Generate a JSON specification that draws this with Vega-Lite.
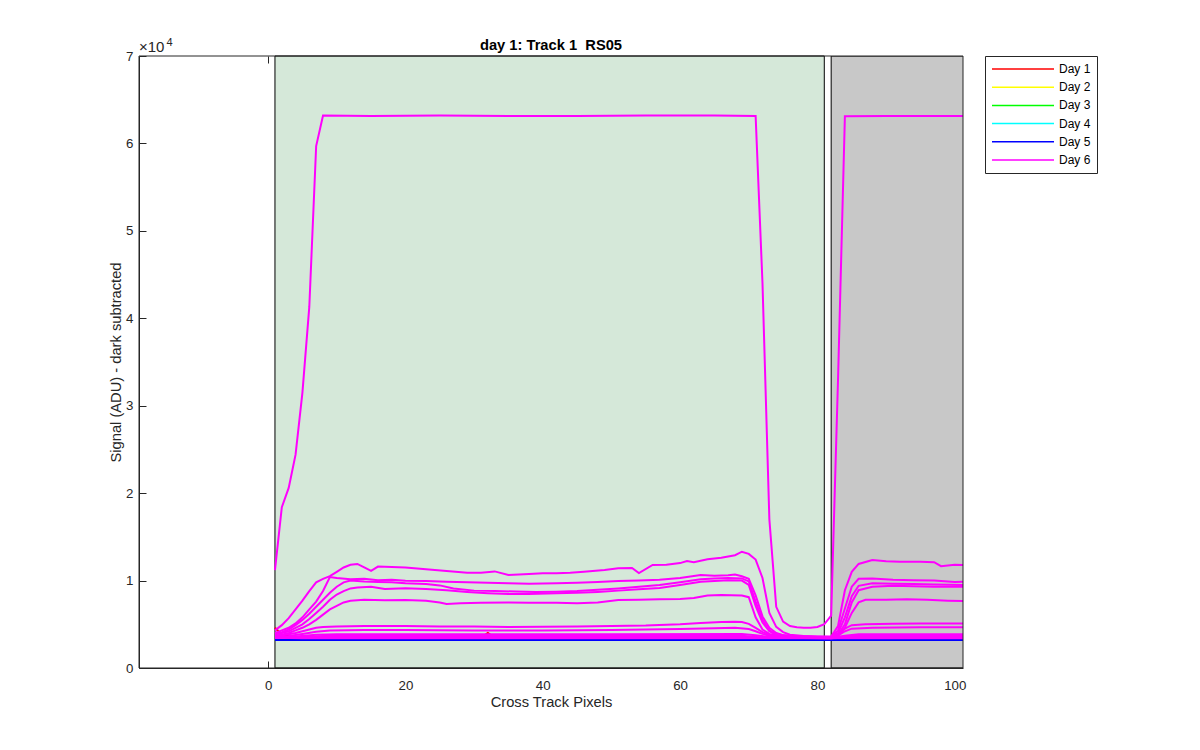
{
  "$schema": "https://vega.github.io/schema/vega-lite/v6.json",
  "width": 824,
  "height": 612,
  "autosize": {"type": "none"},
  "padding": {"left": 139, "top": 56, "right": 237, "bottom": 82},
  "background": "white",
  "config": {
    "font": "Liberation Sans",
    "view": {"stroke": null},
    "legend": {
      "orient": "right",
      "offset": 22,
      "title": null,
      "symbolType": "stroke",
      "symbolSize": 3844,
      "symbolStrokeWidth": 1.5,
      "labelFontSize": 12,
      "labelColor": "#000000",
      "labelOffset": 4,
      "strokeColor": "#262626",
      "fillColor": "#ffffff",
      "padding": 6,
      "clipHeight": 14,
      "rowPadding": 4.2
    }
  },
  "resolve": {"axis": {"x": "independent", "y": "independent"}},
  "title": {
    "text": "day 1: Track 1\u00a0 RS05",
    "fontSize": 14.7,
    "fontWeight": "bold",
    "color": "#000000",
    "offset": -16,
    "anchor": "middle"
  },
  "datasets": {
    "under": [
      {"day":"Day 1","id":"r1","pixel":1,"signal":4600},{"day":"Day 1","id":"r1","pixel":2,"signal":3800},{"day":"Day 1","id":"r1","pixel":4,"signal":3450},{"day":"Day 1","id":"r1","pixel":31,"signal":3450},{"day":"Day 1","id":"r1","pixel":32,"signal":4000},{"day":"Day 1","id":"r1","pixel":33,"signal":3450},{"day":"Day 1","id":"r1","pixel":102,"signal":3400},
      {"day":"Day 2","id":"y1","pixel":1,"signal":3200},{"day":"Day 2","id":"y1","pixel":50,"signal":3200},{"day":"Day 2","id":"y1","pixel":102,"signal":3200},
      {"day":"Day 3","id":"g1","pixel":1,"signal":3200},{"day":"Day 3","id":"g1","pixel":50,"signal":3200},{"day":"Day 3","id":"g1","pixel":102,"signal":3200},
      {"day":"Day 4","id":"c1","pixel":1,"signal":3200},{"day":"Day 4","id":"c1","pixel":50,"signal":3200},{"day":"Day 4","id":"c1","pixel":102,"signal":3200},
      {"day":"Day 5","id":"b1","pixel":1,"signal":3200},{"day":"Day 5","id":"b1","pixel":50,"signal":3200},{"day":"Day 5","id":"b1","pixel":102,"signal":3200}
    ],
    "magenta": [
      {"day":"Day 6","id":"S","pixel":1,"signal":11200},{"day":"Day 6","id":"S","pixel":2,"signal":18400},{"day":"Day 6","id":"S","pixel":3,"signal":20600},{"day":"Day 6","id":"S","pixel":4,"signal":24400},{"day":"Day 6","id":"S","pixel":5,"signal":31500},{"day":"Day 6","id":"S","pixel":6,"signal":41300},{"day":"Day 6","id":"S","pixel":7,"signal":59700},{"day":"Day 6","id":"S","pixel":8,"signal":63200},{"day":"Day 6","id":"S","pixel":15,"signal":63150},{"day":"Day 6","id":"S","pixel":25,"signal":63200},{"day":"Day 6","id":"S","pixel":35,"signal":63150},{"day":"Day 6","id":"S","pixel":45,"signal":63150},{"day":"Day 6","id":"S","pixel":55,"signal":63200},{"day":"Day 6","id":"S","pixel":65,"signal":63200},{"day":"Day 6","id":"S","pixel":71,"signal":63150},{"day":"Day 6","id":"S","pixel":72,"signal":44000},{"day":"Day 6","id":"S","pixel":73,"signal":17000},{"day":"Day 6","id":"S","pixel":74,"signal":7000},{"day":"Day 6","id":"S","pixel":75,"signal":5300},{"day":"Day 6","id":"S","pixel":76,"signal":4800},{"day":"Day 6","id":"S","pixel":77,"signal":4650},{"day":"Day 6","id":"S","pixel":78,"signal":4600},{"day":"Day 6","id":"S","pixel":79,"signal":4600},{"day":"Day 6","id":"S","pixel":80,"signal":4700},{"day":"Day 6","id":"S","pixel":81,"signal":5000},{"day":"Day 6","id":"S","pixel":82,"signal":6000},{"day":"Day 6","id":"S","pixel":83,"signal":33000},{"day":"Day 6","id":"S","pixel":84,"signal":63100},{"day":"Day 6","id":"S","pixel":90,"signal":63150},{"day":"Day 6","id":"S","pixel":102,"signal":63150},

      {"day":"Day 6","id":"A","pixel":1,"signal":4300},{"day":"Day 6","id":"A","pixel":2,"signal":4900},{"day":"Day 6","id":"A","pixel":3,"signal":5700},{"day":"Day 6","id":"A","pixel":4,"signal":6700},{"day":"Day 6","id":"A","pixel":5,"signal":7700},{"day":"Day 6","id":"A","pixel":6,"signal":8800},{"day":"Day 6","id":"A","pixel":7,"signal":9800},{"day":"Day 6","id":"A","pixel":8,"signal":10200},{"day":"Day 6","id":"A","pixel":9,"signal":10500},{"day":"Day 6","id":"A","pixel":10,"signal":11000},{"day":"Day 6","id":"A","pixel":11,"signal":11500},{"day":"Day 6","id":"A","pixel":12,"signal":11800},{"day":"Day 6","id":"A","pixel":13,"signal":11900},{"day":"Day 6","id":"A","pixel":14,"signal":11500},{"day":"Day 6","id":"A","pixel":15,"signal":11100},{"day":"Day 6","id":"A","pixel":16,"signal":11600},{"day":"Day 6","id":"A","pixel":18,"signal":11550},{"day":"Day 6","id":"A","pixel":20,"signal":11500},{"day":"Day 6","id":"A","pixel":23,"signal":11300},{"day":"Day 6","id":"A","pixel":26,"signal":11100},{"day":"Day 6","id":"A","pixel":29,"signal":10900},{"day":"Day 6","id":"A","pixel":31,"signal":10900},{"day":"Day 6","id":"A","pixel":33,"signal":11050},{"day":"Day 6","id":"A","pixel":35,"signal":10650},{"day":"Day 6","id":"A","pixel":38,"signal":10750},{"day":"Day 6","id":"A","pixel":40,"signal":10830},{"day":"Day 6","id":"A","pixel":42,"signal":10830},{"day":"Day 6","id":"A","pixel":44,"signal":10900},{"day":"Day 6","id":"A","pixel":46,"signal":11020},{"day":"Day 6","id":"A","pixel":49,"signal":11200},{"day":"Day 6","id":"A","pixel":51,"signal":11400},{"day":"Day 6","id":"A","pixel":53,"signal":11450},{"day":"Day 6","id":"A","pixel":54,"signal":10860},{"day":"Day 6","id":"A","pixel":56,"signal":11780},{"day":"Day 6","id":"A","pixel":58,"signal":11800},{"day":"Day 6","id":"A","pixel":60,"signal":12000},{"day":"Day 6","id":"A","pixel":61,"signal":12240},{"day":"Day 6","id":"A","pixel":62,"signal":12100},{"day":"Day 6","id":"A","pixel":64,"signal":12430},{"day":"Day 6","id":"A","pixel":66,"signal":12600},{"day":"Day 6","id":"A","pixel":68,"signal":12900},{"day":"Day 6","id":"A","pixel":69,"signal":13300},{"day":"Day 6","id":"A","pixel":70,"signal":13050},{"day":"Day 6","id":"A","pixel":71,"signal":12400},{"day":"Day 6","id":"A","pixel":72,"signal":10300},{"day":"Day 6","id":"A","pixel":73,"signal":6300},{"day":"Day 6","id":"A","pixel":74,"signal":4700},{"day":"Day 6","id":"A","pixel":75,"signal":4100},{"day":"Day 6","id":"A","pixel":76,"signal":3800},{"day":"Day 6","id":"A","pixel":78,"signal":3650},{"day":"Day 6","id":"A","pixel":80,"signal":3600},{"day":"Day 6","id":"A","pixel":82,"signal":3600},{"day":"Day 6","id":"A","pixel":83,"signal":4800},{"day":"Day 6","id":"A","pixel":84,"signal":8900},{"day":"Day 6","id":"A","pixel":85,"signal":11000},{"day":"Day 6","id":"A","pixel":86,"signal":11900},{"day":"Day 6","id":"A","pixel":88,"signal":12350},{"day":"Day 6","id":"A","pixel":90,"signal":12200},{"day":"Day 6","id":"A","pixel":92,"signal":12160},{"day":"Day 6","id":"A","pixel":95,"signal":12150},{"day":"Day 6","id":"A","pixel":97,"signal":12100},{"day":"Day 6","id":"A","pixel":98,"signal":11650},{"day":"Day 6","id":"A","pixel":100,"signal":11800},{"day":"Day 6","id":"A","pixel":102,"signal":11780},

      {"day":"Day 6","id":"B","pixel":1,"signal":4000},{"day":"Day 6","id":"B","pixel":2,"signal":4300},{"day":"Day 6","id":"B","pixel":3,"signal":4600},{"day":"Day 6","id":"B","pixel":4,"signal":5100},{"day":"Day 6","id":"B","pixel":5,"signal":5800},{"day":"Day 6","id":"B","pixel":6,"signal":6700},{"day":"Day 6","id":"B","pixel":7,"signal":7600},{"day":"Day 6","id":"B","pixel":8,"signal":8800},{"day":"Day 6","id":"B","pixel":9,"signal":10400},{"day":"Day 6","id":"B","pixel":10,"signal":10300},{"day":"Day 6","id":"B","pixel":12,"signal":10150},{"day":"Day 6","id":"B","pixel":14,"signal":10200},{"day":"Day 6","id":"B","pixel":16,"signal":10050},{"day":"Day 6","id":"B","pixel":18,"signal":10100},{"day":"Day 6","id":"B","pixel":20,"signal":9990},{"day":"Day 6","id":"B","pixel":23,"signal":9950},{"day":"Day 6","id":"B","pixel":26,"signal":9870},{"day":"Day 6","id":"B","pixel":29,"signal":9800},{"day":"Day 6","id":"B","pixel":32,"signal":9750},{"day":"Day 6","id":"B","pixel":35,"signal":9700},{"day":"Day 6","id":"B","pixel":38,"signal":9650},{"day":"Day 6","id":"B","pixel":42,"signal":9690},{"day":"Day 6","id":"B","pixel":45,"signal":9750},{"day":"Day 6","id":"B","pixel":48,"signal":9850},{"day":"Day 6","id":"B","pixel":51,"signal":9950},{"day":"Day 6","id":"B","pixel":54,"signal":10000},{"day":"Day 6","id":"B","pixel":57,"signal":10100},{"day":"Day 6","id":"B","pixel":60,"signal":10300},{"day":"Day 6","id":"B","pixel":63,"signal":10640},{"day":"Day 6","id":"B","pixel":65,"signal":10550},{"day":"Day 6","id":"B","pixel":67,"signal":10600},{"day":"Day 6","id":"B","pixel":68,"signal":10700},{"day":"Day 6","id":"B","pixel":69,"signal":10500},{"day":"Day 6","id":"B","pixel":70,"signal":10200},{"day":"Day 6","id":"B","pixel":71,"signal":8300},{"day":"Day 6","id":"B","pixel":72,"signal":5900},{"day":"Day 6","id":"B","pixel":73,"signal":4600},{"day":"Day 6","id":"B","pixel":74,"signal":4000},{"day":"Day 6","id":"B","pixel":75,"signal":3750},{"day":"Day 6","id":"B","pixel":77,"signal":3600},{"day":"Day 6","id":"B","pixel":80,"signal":3550},{"day":"Day 6","id":"B","pixel":82,"signal":3550},{"day":"Day 6","id":"B","pixel":83,"signal":4300},{"day":"Day 6","id":"B","pixel":84,"signal":6800},{"day":"Day 6","id":"B","pixel":85,"signal":9300},{"day":"Day 6","id":"B","pixel":86,"signal":10200},{"day":"Day 6","id":"B","pixel":88,"signal":10250},{"day":"Day 6","id":"B","pixel":91,"signal":10100},{"day":"Day 6","id":"B","pixel":94,"signal":10050},{"day":"Day 6","id":"B","pixel":97,"signal":10000},{"day":"Day 6","id":"B","pixel":100,"signal":9850},{"day":"Day 6","id":"B","pixel":102,"signal":9870},

      {"day":"Day 6","id":"C","pixel":1,"signal":3900},{"day":"Day 6","id":"C","pixel":2,"signal":4100},{"day":"Day 6","id":"C","pixel":3,"signal":4400},{"day":"Day 6","id":"C","pixel":4,"signal":4900},{"day":"Day 6","id":"C","pixel":5,"signal":5500},{"day":"Day 6","id":"C","pixel":6,"signal":6200},{"day":"Day 6","id":"C","pixel":7,"signal":7000},{"day":"Day 6","id":"C","pixel":8,"signal":7800},{"day":"Day 6","id":"C","pixel":9,"signal":8600},{"day":"Day 6","id":"C","pixel":10,"signal":9300},{"day":"Day 6","id":"C","pixel":11,"signal":9800},{"day":"Day 6","id":"C","pixel":12,"signal":10000},{"day":"Day 6","id":"C","pixel":14,"signal":9900},{"day":"Day 6","id":"C","pixel":16,"signal":9850},{"day":"Day 6","id":"C","pixel":18,"signal":9800},{"day":"Day 6","id":"C","pixel":20,"signal":9690},{"day":"Day 6","id":"C","pixel":23,"signal":9600},{"day":"Day 6","id":"C","pixel":25,"signal":9450},{"day":"Day 6","id":"C","pixel":27,"signal":9100},{"day":"Day 6","id":"C","pixel":30,"signal":8850},{"day":"Day 6","id":"C","pixel":33,"signal":8800},{"day":"Day 6","id":"C","pixel":36,"signal":8750},{"day":"Day 6","id":"C","pixel":39,"signal":8700},{"day":"Day 6","id":"C","pixel":42,"signal":8730},{"day":"Day 6","id":"C","pixel":45,"signal":8800},{"day":"Day 6","id":"C","pixel":48,"signal":8950},{"day":"Day 6","id":"C","pixel":51,"signal":9100},{"day":"Day 6","id":"C","pixel":54,"signal":9300},{"day":"Day 6","id":"C","pixel":57,"signal":9500},{"day":"Day 6","id":"C","pixel":60,"signal":9800},{"day":"Day 6","id":"C","pixel":63,"signal":10140},{"day":"Day 6","id":"C","pixel":65,"signal":10250},{"day":"Day 6","id":"C","pixel":67,"signal":10300},{"day":"Day 6","id":"C","pixel":69,"signal":10250},{"day":"Day 6","id":"C","pixel":70,"signal":9900},{"day":"Day 6","id":"C","pixel":71,"signal":7600},{"day":"Day 6","id":"C","pixel":72,"signal":5500},{"day":"Day 6","id":"C","pixel":73,"signal":4300},{"day":"Day 6","id":"C","pixel":74,"signal":3850},{"day":"Day 6","id":"C","pixel":76,"signal":3650},{"day":"Day 6","id":"C","pixel":82,"signal":3550},{"day":"Day 6","id":"C","pixel":83,"signal":4000},{"day":"Day 6","id":"C","pixel":84,"signal":5800},{"day":"Day 6","id":"C","pixel":85,"signal":8200},{"day":"Day 6","id":"C","pixel":86,"signal":9400},{"day":"Day 6","id":"C","pixel":88,"signal":9700},{"day":"Day 6","id":"C","pixel":91,"signal":9650},{"day":"Day 6","id":"C","pixel":94,"signal":9600},{"day":"Day 6","id":"C","pixel":97,"signal":9550},{"day":"Day 6","id":"C","pixel":102,"signal":9490},

      {"day":"Day 6","id":"D","pixel":1,"signal":3800},{"day":"Day 6","id":"D","pixel":2,"signal":4000},{"day":"Day 6","id":"D","pixel":3,"signal":4200},{"day":"Day 6","id":"D","pixel":4,"signal":4600},{"day":"Day 6","id":"D","pixel":5,"signal":5000},{"day":"Day 6","id":"D","pixel":6,"signal":5600},{"day":"Day 6","id":"D","pixel":7,"signal":6300},{"day":"Day 6","id":"D","pixel":8,"signal":7000},{"day":"Day 6","id":"D","pixel":9,"signal":7800},{"day":"Day 6","id":"D","pixel":10,"signal":8400},{"day":"Day 6","id":"D","pixel":11,"signal":8800},{"day":"Day 6","id":"D","pixel":12,"signal":9100},{"day":"Day 6","id":"D","pixel":13,"signal":9200},{"day":"Day 6","id":"D","pixel":15,"signal":9300},{"day":"Day 6","id":"D","pixel":17,"signal":9050},{"day":"Day 6","id":"D","pixel":20,"signal":9110},{"day":"Day 6","id":"D","pixel":23,"signal":9050},{"day":"Day 6","id":"D","pixel":26,"signal":8900},{"day":"Day 6","id":"D","pixel":29,"signal":8700},{"day":"Day 6","id":"D","pixel":32,"signal":8550},{"day":"Day 6","id":"D","pixel":35,"signal":8450},{"day":"Day 6","id":"D","pixel":38,"signal":8450},{"day":"Day 6","id":"D","pixel":42,"signal":8540},{"day":"Day 6","id":"D","pixel":45,"signal":8600},{"day":"Day 6","id":"D","pixel":48,"signal":8700},{"day":"Day 6","id":"D","pixel":51,"signal":8850},{"day":"Day 6","id":"D","pixel":54,"signal":9000},{"day":"Day 6","id":"D","pixel":57,"signal":9150},{"day":"Day 6","id":"D","pixel":60,"signal":9500},{"day":"Day 6","id":"D","pixel":63,"signal":9870},{"day":"Day 6","id":"D","pixel":65,"signal":9950},{"day":"Day 6","id":"D","pixel":67,"signal":10050},{"day":"Day 6","id":"D","pixel":69,"signal":10000},{"day":"Day 6","id":"D","pixel":70,"signal":9500},{"day":"Day 6","id":"D","pixel":71,"signal":7100},{"day":"Day 6","id":"D","pixel":72,"signal":5200},{"day":"Day 6","id":"D","pixel":73,"signal":4200},{"day":"Day 6","id":"D","pixel":74,"signal":3800},{"day":"Day 6","id":"D","pixel":76,"signal":3600},{"day":"Day 6","id":"D","pixel":82,"signal":3500},{"day":"Day 6","id":"D","pixel":83,"signal":3800},{"day":"Day 6","id":"D","pixel":84,"signal":5000},{"day":"Day 6","id":"D","pixel":85,"signal":7500},{"day":"Day 6","id":"D","pixel":86,"signal":8900},{"day":"Day 6","id":"D","pixel":88,"signal":9300},{"day":"Day 6","id":"D","pixel":91,"signal":9400},{"day":"Day 6","id":"D","pixel":94,"signal":9350},{"day":"Day 6","id":"D","pixel":97,"signal":9300},{"day":"Day 6","id":"D","pixel":102,"signal":9300},

      {"day":"Day 6","id":"E","pixel":1,"signal":3700},{"day":"Day 6","id":"E","pixel":2,"signal":3800},{"day":"Day 6","id":"E","pixel":3,"signal":4000},{"day":"Day 6","id":"E","pixel":4,"signal":4300},{"day":"Day 6","id":"E","pixel":5,"signal":4600},{"day":"Day 6","id":"E","pixel":6,"signal":5000},{"day":"Day 6","id":"E","pixel":7,"signal":5500},{"day":"Day 6","id":"E","pixel":8,"signal":6100},{"day":"Day 6","id":"E","pixel":9,"signal":6700},{"day":"Day 6","id":"E","pixel":10,"signal":7100},{"day":"Day 6","id":"E","pixel":11,"signal":7500},{"day":"Day 6","id":"E","pixel":12,"signal":7700},{"day":"Day 6","id":"E","pixel":14,"signal":7800},{"day":"Day 6","id":"E","pixel":17,"signal":7750},{"day":"Day 6","id":"E","pixel":20,"signal":7780},{"day":"Day 6","id":"E","pixel":23,"signal":7700},{"day":"Day 6","id":"E","pixel":25,"signal":7500},{"day":"Day 6","id":"E","pixel":26,"signal":7320},{"day":"Day 6","id":"E","pixel":28,"signal":7400},{"day":"Day 6","id":"E","pixel":31,"signal":7450},{"day":"Day 6","id":"E","pixel":35,"signal":7500},{"day":"Day 6","id":"E","pixel":38,"signal":7450},{"day":"Day 6","id":"E","pixel":42,"signal":7450},{"day":"Day 6","id":"E","pixel":45,"signal":7400},{"day":"Day 6","id":"E","pixel":48,"signal":7500},{"day":"Day 6","id":"E","pixel":51,"signal":7780},{"day":"Day 6","id":"E","pixel":54,"signal":7800},{"day":"Day 6","id":"E","pixel":57,"signal":7850},{"day":"Day 6","id":"E","pixel":60,"signal":7900},{"day":"Day 6","id":"E","pixel":62,"signal":8000},{"day":"Day 6","id":"E","pixel":64,"signal":8300},{"day":"Day 6","id":"E","pixel":66,"signal":8350},{"day":"Day 6","id":"E","pixel":69,"signal":8300},{"day":"Day 6","id":"E","pixel":70,"signal":8100},{"day":"Day 6","id":"E","pixel":71,"signal":5800},{"day":"Day 6","id":"E","pixel":72,"signal":4400},{"day":"Day 6","id":"E","pixel":73,"signal":3900},{"day":"Day 6","id":"E","pixel":75,"signal":3600},{"day":"Day 6","id":"E","pixel":82,"signal":3500},{"day":"Day 6","id":"E","pixel":83,"signal":3700},{"day":"Day 6","id":"E","pixel":84,"signal":4600},{"day":"Day 6","id":"E","pixel":85,"signal":6300},{"day":"Day 6","id":"E","pixel":86,"signal":7500},{"day":"Day 6","id":"E","pixel":87,"signal":7800},{"day":"Day 6","id":"E","pixel":90,"signal":7800},{"day":"Day 6","id":"E","pixel":93,"signal":7850},{"day":"Day 6","id":"E","pixel":96,"signal":7800},{"day":"Day 6","id":"E","pixel":99,"signal":7700},{"day":"Day 6","id":"E","pixel":102,"signal":7650},

      {"day":"Day 6","id":"F","pixel":1,"signal":3700},{"day":"Day 6","id":"F","pixel":2,"signal":3750},{"day":"Day 6","id":"F","pixel":3,"signal":3850},{"day":"Day 6","id":"F","pixel":4,"signal":4000},{"day":"Day 6","id":"F","pixel":5,"signal":4200},{"day":"Day 6","id":"F","pixel":6,"signal":4400},{"day":"Day 6","id":"F","pixel":7,"signal":4600},{"day":"Day 6","id":"F","pixel":8,"signal":4700},{"day":"Day 6","id":"F","pixel":10,"signal":4750},{"day":"Day 6","id":"F","pixel":14,"signal":4800},{"day":"Day 6","id":"F","pixel":20,"signal":4800},{"day":"Day 6","id":"F","pixel":25,"signal":4750},{"day":"Day 6","id":"F","pixel":30,"signal":4750},{"day":"Day 6","id":"F","pixel":35,"signal":4700},{"day":"Day 6","id":"F","pixel":40,"signal":4730},{"day":"Day 6","id":"F","pixel":45,"signal":4750},{"day":"Day 6","id":"F","pixel":50,"signal":4800},{"day":"Day 6","id":"F","pixel":55,"signal":4850},{"day":"Day 6","id":"F","pixel":60,"signal":5000},{"day":"Day 6","id":"F","pixel":63,"signal":5150},{"day":"Day 6","id":"F","pixel":66,"signal":5250},{"day":"Day 6","id":"F","pixel":68,"signal":5300},{"day":"Day 6","id":"F","pixel":69,"signal":5250},{"day":"Day 6","id":"F","pixel":70,"signal":5050},{"day":"Day 6","id":"F","pixel":71,"signal":4600},{"day":"Day 6","id":"F","pixel":72,"signal":4100},{"day":"Day 6","id":"F","pixel":73,"signal":3800},{"day":"Day 6","id":"F","pixel":74,"signal":3650},{"day":"Day 6","id":"F","pixel":82,"signal":3500},{"day":"Day 6","id":"F","pixel":83,"signal":3800},{"day":"Day 6","id":"F","pixel":84,"signal":4500},{"day":"Day 6","id":"F","pixel":85,"signal":4900},{"day":"Day 6","id":"F","pixel":87,"signal":5000},{"day":"Day 6","id":"F","pixel":91,"signal":5050},{"day":"Day 6","id":"F","pixel":95,"signal":5100},{"day":"Day 6","id":"F","pixel":102,"signal":5100},

      {"day":"Day 6","id":"G","pixel":1,"signal":3600},{"day":"Day 6","id":"G","pixel":3,"signal":3650},{"day":"Day 6","id":"G","pixel":5,"signal":3900},{"day":"Day 6","id":"G","pixel":7,"signal":4150},{"day":"Day 6","id":"G","pixel":9,"signal":4300},{"day":"Day 6","id":"G","pixel":14,"signal":4350},{"day":"Day 6","id":"G","pixel":20,"signal":4350},{"day":"Day 6","id":"G","pixel":30,"signal":4300},{"day":"Day 6","id":"G","pixel":40,"signal":4300},{"day":"Day 6","id":"G","pixel":50,"signal":4350},{"day":"Day 6","id":"G","pixel":60,"signal":4450},{"day":"Day 6","id":"G","pixel":65,"signal":4550},{"day":"Day 6","id":"G","pixel":68,"signal":4600},{"day":"Day 6","id":"G","pixel":70,"signal":4450},{"day":"Day 6","id":"G","pixel":71,"signal":4200},{"day":"Day 6","id":"G","pixel":72,"signal":3900},{"day":"Day 6","id":"G","pixel":73,"signal":3700},{"day":"Day 6","id":"G","pixel":74,"signal":3550},{"day":"Day 6","id":"G","pixel":82,"signal":3450},{"day":"Day 6","id":"G","pixel":83,"signal":3700},{"day":"Day 6","id":"G","pixel":84,"signal":4200},{"day":"Day 6","id":"G","pixel":85,"signal":4500},{"day":"Day 6","id":"G","pixel":88,"signal":4600},{"day":"Day 6","id":"G","pixel":95,"signal":4650},{"day":"Day 6","id":"G","pixel":102,"signal":4650},

      {"day":"Day 6","id":"H1","pixel":1,"signal":3550},{"day":"Day 6","id":"H1","pixel":4,"signal":3600},{"day":"Day 6","id":"H1","pixel":7,"signal":3800},{"day":"Day 6","id":"H1","pixel":10,"signal":3850},{"day":"Day 6","id":"H1","pixel":30,"signal":3850},{"day":"Day 6","id":"H1","pixel":50,"signal":3850},{"day":"Day 6","id":"H1","pixel":69,"signal":3900},{"day":"Day 6","id":"H1","pixel":71,"signal":3750},{"day":"Day 6","id":"H1","pixel":73,"signal":3550},{"day":"Day 6","id":"H1","pixel":82,"signal":3450},{"day":"Day 6","id":"H1","pixel":84,"signal":3700},{"day":"Day 6","id":"H1","pixel":86,"signal":3850},{"day":"Day 6","id":"H1","pixel":102,"signal":3850},

      {"day":"Day 6","id":"H2","pixel":1,"signal":3500},{"day":"Day 6","id":"H2","pixel":5,"signal":3550},{"day":"Day 6","id":"H2","pixel":8,"signal":3650},{"day":"Day 6","id":"H2","pixel":40,"signal":3650},{"day":"Day 6","id":"H2","pixel":69,"signal":3700},{"day":"Day 6","id":"H2","pixel":72,"signal":3500},{"day":"Day 6","id":"H2","pixel":82,"signal":3400},{"day":"Day 6","id":"H2","pixel":85,"signal":3650},{"day":"Day 6","id":"H2","pixel":102,"signal":3650},

      {"day":"Day 6","id":"H3","pixel":1,"signal":3450},{"day":"Day 6","id":"H3","pixel":8,"signal":3500},{"day":"Day 6","id":"H3","pixel":70,"signal":3550},{"day":"Day 6","id":"H3","pixel":73,"signal":3450},{"day":"Day 6","id":"H3","pixel":82,"signal":3400},{"day":"Day 6","id":"H3","pixel":85,"signal":3500},{"day":"Day 6","id":"H3","pixel":102,"signal":3500},

      {"day":"Day 6","id":"H4","pixel":1,"signal":3450},{"day":"Day 6","id":"H4","pixel":5,"signal":3400},{"day":"Day 6","id":"H4","pixel":102,"signal":3400}
    ]
  },
  "layer": [
    {
      "data": {"values": [{"start": 1, "end": 81}]},
      "mark": {"type": "rect", "fill": "#d5e8d9", "stroke": "#000000", "strokeWidth": 1},
      "encoding": {
        "x": {
          "field": "start", "type": "quantitative",
          "scale": {"domain": [-18.8, 101.2], "nice": false, "zero": false},
          "axis": null
        },
        "x2": {"field": "end"},
        "y": {
          "datum": 0, "type": "quantitative",
          "scale": {"domain": [0, 70000], "nice": false, "zero": false},
          "axis": null
        },
        "y2": {"datum": 70000}
      }
    },
    {
      "data": {"values": [{"start": 82, "end": 110}]},
      "mark": {"type": "rect", "fill": "#c8c8c8", "stroke": "#000000", "strokeWidth": 1, "clip": true},
      "encoding": {
        "x": {"field": "start", "type": "quantitative", "axis": null},
        "x2": {"field": "end"},
        "y": {"datum": 0, "type": "quantitative", "axis": null},
        "y2": {"datum": 70000}
      }
    },
    {
      "data": {"name": "under"},
      "mark": {"type": "line", "strokeWidth": 2, "clip": true},
      "encoding": {
        "x": {"field": "pixel", "type": "quantitative", "axis": null},
        "y": {"field": "signal", "type": "quantitative", "axis": null},
        "color": {
          "field": "day", "type": "nominal",
          "scale": {"domain": ["Day 1", "Day 2", "Day 3", "Day 4", "Day 5", "Day 6"], "range": ["#ff0000", "#ffff00", "#00ff00", "#00ffff", "#0000ff", "#ff00ff"]}
        },
        "detail": {"field": "id"}
      }
    },
    {
      "data": {"name": "magenta"},
      "mark": {"type": "line", "strokeWidth": 2, "clip": true},
      "encoding": {
        "x": {
          "field": "pixel", "type": "quantitative",
          "axis": {
            "orient": "bottom",
            "values": [0, 20, 40, 60, 80, 100],
            "title": "Cross Track Pixels",
            "titleFontSize": 14.7, "titleFontWeight": "normal", "titleColor": "#262626", "titlePadding": 3,
            "labelFontSize": 13.3, "labelColor": "#262626", "labelPadding": 17, "labelFlush": false,
            "domainColor": "#262626", "tickColor": "#262626", "tickSize": -7, "grid": false
          }
        },
        "y": {
          "field": "signal", "type": "quantitative",
          "axis": {
            "orient": "left",
            "values": [0, 10000, 20000, 30000, 40000, 50000, 60000, 70000],
            "labelExpr": "format(datum.value / 10000, 'd')",
            "title": "Signal (ADU) - dark subtracted",
            "titleFontSize": 14.7, "titleFontWeight": "normal", "titleColor": "#262626", "titlePadding": 2,
            "labelFontSize": 13.3, "labelColor": "#262626", "labelPadding": 13, "labelFlush": false,
            "domainColor": "#262626", "tickColor": "#262626", "tickSize": -7, "grid": false
          }
        },
        "color": {
          "field": "day", "type": "nominal",
          "scale": {"domain": ["Day 1", "Day 2", "Day 3", "Day 4", "Day 5", "Day 6"], "range": ["#ff0000", "#ffff00", "#00ff00", "#00ffff", "#0000ff", "#ff00ff"]}
        },
        "detail": {"field": "id"}
      }
    },
    {
      "data": {"values": [{"box": "axes"}]},
      "mark": {"type": "rect", "filled": false, "stroke": "#262626", "strokeWidth": 1},
      "encoding": {
        "x": {
          "datum": -18.8, "type": "quantitative",
          "axis": {"orient": "top", "labels": false, "domain": false, "title": null, "values": [0, 20, 40, 60, 80, 100], "tickSize": -7, "tickColor": "#262626", "grid": false, "minExtent": 0, "maxExtent": 0}
        },
        "x2": {"datum": 101.2},
        "y": {"datum": 0, "type": "quantitative", "axis": null},
        "y2": {"datum": 70000}
      }
    },
    {
      "data": {"values": [{"label": "×10"}]},
      "mark": {"type": "text", "align": "left", "baseline": "alphabetic", "fontSize": 15, "color": "#262626", "dy": -4},
      "encoding": {
        "x": {"datum": -18.8, "type": "quantitative", "axis": null},
        "y": {"datum": 70000, "type": "quantitative", "axis": null},
        "text": {"field": "label"}
      }
    },
    {
      "data": {"values": [{"label": "4"}]},
      "mark": {"type": "text", "align": "left", "baseline": "alphabetic", "fontSize": 11, "color": "#262626", "dx": 27.5, "dy": -10},
      "encoding": {
        "x": {"datum": -18.8, "type": "quantitative", "axis": null},
        "y": {"datum": 70000, "type": "quantitative", "axis": null},
        "text": {"field": "label"}
      }
    }
  ]
}
